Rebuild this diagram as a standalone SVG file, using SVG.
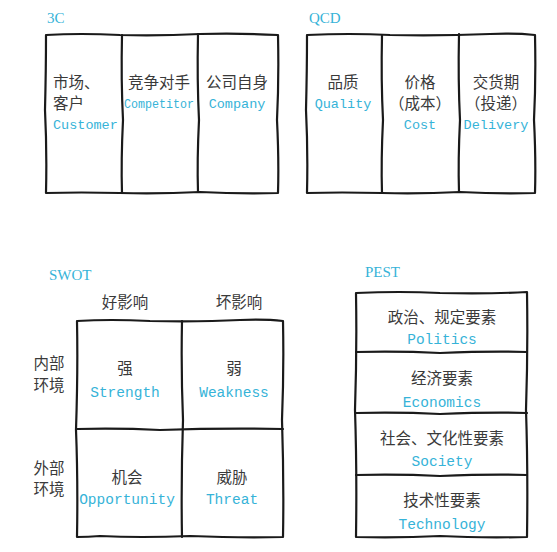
<svg xmlns="http://www.w3.org/2000/svg" width="557" height="552" viewBox="0 0 557 552">
<style>
.ln{fill:none;stroke:#1a1a1a;stroke-width:2.2;stroke-linecap:round;stroke-linejoin:round}
.cn{font-family:"Noto Sans CJK SC","Liberation Sans",sans-serif;font-size:15.5px;fill:#3a3a3a}
.en{font-family:"Liberation Mono","DejaVu Sans Mono",monospace;font-size:13.5px;fill:#36b3d8}
.big{font-size:14.5px}
.tt{font-family:"Liberation Serif","DejaVu Serif",serif;font-size:15px;fill:#36b3d8}
.m{text-anchor:middle}
</style>
<rect width="557" height="552" fill="#ffffff"/>

<g id="title-3c"><text class="tt" x="47" y="23">3C</text></g>
<g id="title-qcd"><text class="tt" x="309" y="23">QCD</text></g>
<g id="title-swot"><text class="tt" x="49" y="280">SWOT</text></g>
<g id="title-pest"><text class="tt" x="365" y="277">PEST</text></g>

<g id="connectors">
<!-- 3C frame -->
<path class="ln" d="M46,35 Q80,33 120,35 Q160,36 200,34 Q240,33 278,35 Q279,80 277,120 Q279,160 278,193 Q240,194 200,192 Q160,194 120,193 Q80,192 46,193 Q47,150 45,110 Q46,70 46,35 Z"/>
<path class="ln" d="M122,35 Q121,80 123,120 Q121,160 122,193"/>
<path class="ln" d="M198,34 Q197,80 199,120 Q197,160 198,192"/>
<!-- QCD frame -->
<path class="ln" d="M307,35 Q350,33 390,35 Q440,36 490,34 Q515,33 535,35 Q536,80 534,120 Q536,160 535,193 Q500,194 460,192 Q420,194 382,193 Q340,192 307,193 Q308,150 306,110 Q307,70 307,35 Z"/>
<path class="ln" d="M382,35 Q381,80 383,120 Q381,160 382,193"/>
<path class="ln" d="M459,34 Q458,80 460,120 Q458,160 459,192"/>
<!-- SWOT grid -->
<path class="ln" d="M77,321 Q110,319 150,321 Q200,322 240,320 Q265,319 283,321 Q284,370 282,420 Q284,480 283,537 Q240,538 190,536 Q140,538 100,536 Q88,537 77,537 Q78,480 76,430 Q78,370 77,321 Z"/>
<path class="ln" d="M182,321 Q181,370 183,420 Q181,480 182,537"/>
<path class="ln" d="M77,429 Q120,428 160,430 Q220,428 283,429"/>
<!-- PEST stack -->
<path class="ln" d="M356,293 Q400,291 440,293 Q490,294 527,292 Q528,350 526,410 Q528,470 527,537 Q480,538 440,536 Q400,538 356,537 Q357,470 355,410 Q357,350 356,293 Z"/>
<path class="ln" d="M356,352 Q400,351 440,353 Q490,351 527,352"/>
<path class="ln" d="M356,413 Q400,412 440,414 Q490,412 527,413"/>
<path class="ln" d="M356,475 Q400,474 440,476 Q490,474 527,475"/>
</g>

<g id="customer">
<text class="cn" x="53" y="88">市场、</text>
<text class="cn" x="53" y="109">客户</text>
<text class="en" x="53" y="129">Customer</text>
</g>
<g id="competitor">
<text class="cn m" x="159" y="88">竞争对手</text>
<text class="en m" x="159" y="108" textLength="70" lengthAdjust="spacingAndGlyphs">Competitor</text>
</g>
<g id="company">
<text class="cn m" x="237" y="88">公司自身</text>
<text class="en m" x="237" y="108">Company</text>
</g>

<g id="quality">
<text class="cn m" x="343" y="88">品质</text>
<text class="en m" x="343" y="108">Quality</text>
</g>
<g id="cost">
<text class="cn m" x="420" y="88">价格</text>
<text class="cn m" x="420" y="109">（成本）</text>
<text class="en m" x="420" y="129">Cost</text>
</g>
<g id="delivery">
<text class="cn m" x="496" y="88">交货期</text>
<text class="cn m" x="496" y="109">（投递）</text>
<text class="en m" x="496" y="129">Delivery</text>
</g>

<g id="swot-headers">
<text class="cn m" x="125" y="308">好影响</text>
<text class="cn m" x="239" y="308">坏影响</text>
<text class="cn m" x="49" y="369">内部</text>
<text class="cn m" x="49" y="391">环境</text>
<text class="cn m" x="49" y="474">外部</text>
<text class="cn m" x="49" y="495">环境</text>
</g>
<g id="strength">
<text class="cn m" x="125" y="374">强</text>
<text class="en big m" x="125" y="397">Strength</text>
</g>
<g id="weakness">
<text class="cn m" x="234" y="374">弱</text>
<text class="en big m" x="234" y="397">Weakness</text>
</g>
<g id="opportunity">
<text class="cn m" x="127" y="483">机会</text>
<text class="en big m" x="127" y="504">Opportunity</text>
</g>
<g id="threat">
<text class="cn m" x="232" y="483">威胁</text>
<text class="en big m" x="232" y="504">Threat</text>
</g>

<g id="politics">
<text class="cn m" x="442" y="323">政治、规定要素</text>
<text class="en big m" x="442" y="344">Politics</text>
</g>
<g id="economics">
<text class="cn m" x="442" y="384">经济要素</text>
<text class="en big m" x="442" y="407">Economics</text>
</g>
<g id="society">
<text class="cn m" x="442" y="444">社会、文化性要素</text>
<text class="en big m" x="442" y="466">Society</text>
</g>
<g id="technology">
<text class="cn m" x="442" y="506">技术性要素</text>
<text class="en big m" x="442" y="529">Technology</text>
</g>
</svg>
